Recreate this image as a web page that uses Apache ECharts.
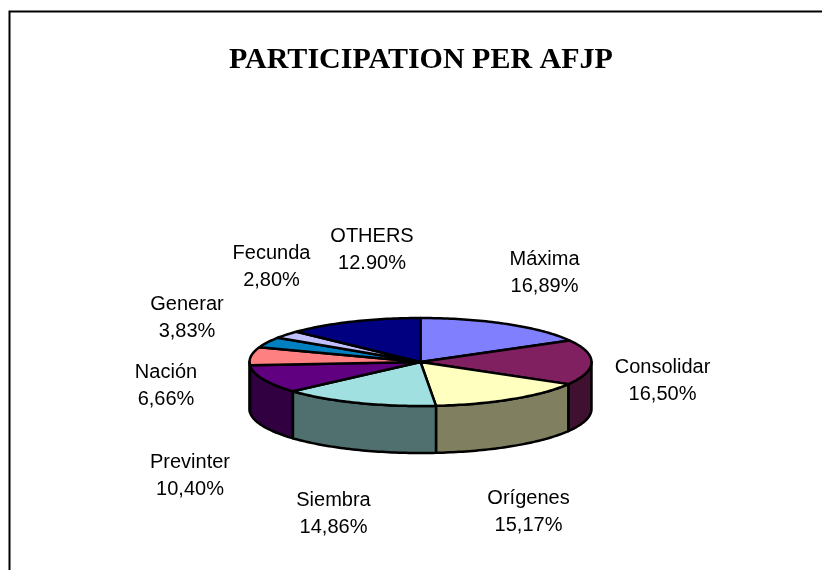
<!DOCTYPE html>
<html><head><meta charset="utf-8">
<style>html,body{margin:0;padding:0;background:#fff}#c{width:822px;height:570px}</style>
<script src="https://cdn.jsdelivr.net/npm/echarts@6/dist/echarts.min.js"></script>
</head><body><div id="c"></div>
<script>
const chartTitle = 'PARTICIPATION PER AFJP';
const categories = ['Máxima','Consolidar','Orígenes','Siembra','Previnter','Nación','Generar','Fecunda','OTHERS'];
const shares = [16.89,16.50,15.17,14.86,10.40,6.66,3.83,2.80,12.90];
const shareLabels = ['16,89%','16,50%','15,17%','14,86%','10,40%','6,66%','3,83%','2,80%','12.90%'];
const topColors = ['#8080FF','#802060','#FFFFC0','#A0E0E0','#600080','#FF8080','#0080C0','#C0C0FF','#000080'];
const sideColors = ['#404080','#401030','#808060','#507070','#300040','#804040','#004060','#606080','#000040'];
const labelAnchors = [[544.5,273],[662.5,381],[528.5,512],[333.5,514],[190,476],[166,386],[187,318],[271.5,267],[372,250]];

const total = shares.reduce((a,b)=>a+b,0);
const CX=420.5, CY=362, RX=171, RY=44, DEPTH=47;
const startOf = i => shares.slice(0,i).reduce((a,b)=>a+b,0)/total*Math.PI*2;
const pt = (t,dy) => [CX+RX*Math.sin(t), CY-RY*Math.cos(t)+(dy||0)];
function arc(a,b,dy){const n=Math.max(2,Math.ceil((b-a)/0.02));const r=[];for(let k=0;k<=n;k++)r.push(pt(a+(b-a)*k/n,dy));return r;}
const line={stroke:'#000',lineWidth:2.5,lineJoin:'round'};

const source = categories.map((c,i)=>[i,shares[i]]);
const chart = echarts.init(document.getElementById('c'),null,{renderer:'canvas'});
chart.setOption({
  animation:false,
  backgroundColor:'#fff',
  title:{text:chartTitle,left:229,top:45,padding:0,itemGap:0,
    textStyle:{fontFamily:'Liberation Serif',fontWeight:'bold',fontSize:30,color:'#000'}},
  graphic:[{type:'polyline',silent:true,shape:{points:[[9.5,570],[9.5,11.5],[822,11.5]]},style:{stroke:'#000',lineWidth:2,fill:null}}],
  series:[
    {type:'custom',coordinateSystem:'none',silent:true,data:source,
      renderItem(p,api){
        const i=api.value(0),a=startOf(i),b=a+api.value(1)/total*Math.PI*2;
        const lo=Math.max(a,Math.PI/2),hi=Math.min(b,Math.PI*1.5);
        if(hi<=lo)return {type:'group',children:[]};
        const pts=arc(lo,hi,0).concat(arc(lo,hi,DEPTH).reverse());
        return {type:'polygon',shape:{points:pts},style:Object.assign({fill:sideColors[i]},line)};
      }},
    {type:'custom',coordinateSystem:'none',silent:true,data:source,z:3,
      renderItem(p,api){
        const i=api.value(0),a=startOf(i),b=a+api.value(1)/total*Math.PI*2;
        const pts=[[CX,CY]].concat(arc(a,b,0));
        return {type:'polygon',shape:{points:pts},style:Object.assign({fill:topColors[i]},line)};
      }},
    {type:'custom',coordinateSystem:'none',silent:true,data:source,z:4,
      renderItem(p,api){
        const i=api.value(0);
        return {type:'text',style:{text:categories[i]+'\n'+shareLabels[i],x:labelAnchors[i][0],y:labelAnchors[i][1],
          align:'center',verticalAlign:'middle',lineHeight:27,fontFamily:'Liberation Sans',fontSize:20,fill:'#000'}};
      }}
  ]
});
</script></body></html>
